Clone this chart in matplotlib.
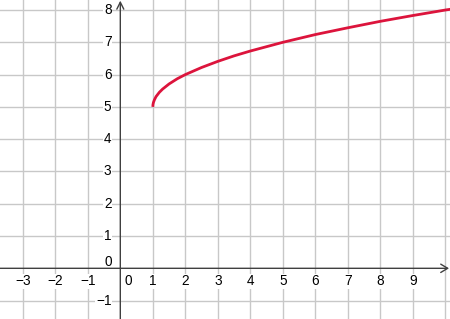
import matplotlib
matplotlib.use("Agg")
import matplotlib.pyplot as plt

# curve points
curve_x = [1.0, 1.005, 1.02, 1.05, 1.1, 1.2, 1.3, 1.5, 1.75, 2.0, 2.5, 3.0, 3.5,
           4.0, 5.0, 6.0, 7.0, 8.0, 9.0, 10.0, 10.2]
curve_y = [5.0, 5.07, 5.14, 5.22, 5.32, 5.45, 5.55, 5.71, 5.87, 6.0, 6.22, 6.41, 6.58,
           6.73, 7.0, 7.24, 7.45, 7.65, 7.83, 8.0, 8.03]

x_ticks = [-3, -2, -1, 1, 2, 3, 4, 5, 6, 7, 8, 9]
y_ticks = [-1, 1, 2, 3, 4, 5, 6, 7, 8]
grid_x = [-3, -2, -1, 1, 2, 3, 4, 5, 6, 7, 8, 9, 10]
grid_y = [-1, 1, 2, 3, 4, 5, 6, 7, 8]

X_MIN, X_MAX = -3.70, 10.14
Y_MIN, Y_MAX = -1.57, 8.31

AXIS_COLOR = "#404040"
GRID_COLOR = "#c8c8c8"
CURVE_COLOR = "#dc143c"
FONT_SIZE = 9.8

plt.rcParams["font.family"] = ["Liberation Sans", "DejaVu Sans"]

fig = plt.figure(figsize=(4.5, 3.19), dpi=100)
ax = fig.add_axes([0, 0, 1, 1])
ax.set_xlim(X_MIN, X_MAX)
ax.set_ylim(Y_MIN, Y_MAX)
ax.axis("off")

for gx in grid_x:
    ax.axvline(gx, color=GRID_COLOR, lw=1.0, zorder=1)
for gy in grid_y:
    ax.axhline(gy, color=GRID_COLOR, lw=1.0, zorder=1)

# axes with open arrow heads
ax.annotate("", xy=(X_MAX - 0.03, 0), xytext=(X_MIN, 0),
            arrowprops=dict(arrowstyle="->,head_length=0.5,head_width=0.3",
                            color=AXIS_COLOR, lw=1.0, shrinkA=0, shrinkB=0), zorder=3)
ax.annotate("", xy=(0, Y_MAX - 0.02), xytext=(0, Y_MIN),
            arrowprops=dict(arrowstyle="->,head_length=0.5,head_width=0.25",
                            color=AXIS_COLOR, lw=1.0, shrinkA=0, shrinkB=0), zorder=3)

label_box = dict(facecolor="white", edgecolor="none", pad=0.5)
for tx in x_ticks:
    ax.text(tx, -0.40, str(tx).replace("-", "\u2212"), ha="center", va="center",
            fontsize=FONT_SIZE, color="black", bbox=label_box, zorder=2)
for ty in y_ticks:
    ax.text(-0.27, ty, str(ty).replace("-", "\u2212"), ha="right", va="center",
            fontsize=FONT_SIZE, color="black", bbox=label_box, zorder=2)
ax.text(0.24, -0.40, "0", ha="center", va="center", fontsize=FONT_SIZE, color="black",
        bbox=label_box, zorder=2)
ax.text(-0.27, 0.19, "0", ha="right", va="center", fontsize=FONT_SIZE, color="black",
        bbox=label_box, zorder=2)

ax.plot(curve_x, curve_y, color=CURVE_COLOR, lw=2.0, solid_capstyle="butt", zorder=4)

fig.savefig("out.png", dpi=100)
